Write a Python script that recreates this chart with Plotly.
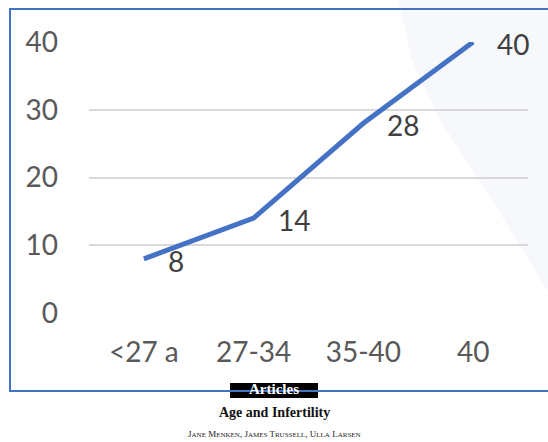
import plotly.graph_objects as go

# Infertility by age group (%)
age_groups = ["<27 a", "27-34", "35-40", "40"]
rates = [8, 14, 28, 40]
y_ticks = [0, 10, 20, 30, 40]

W, H = 548, 442
L, R, T, B = 89, 20, 42, 129
PW, PH = W - L - R, H - T - B
FONT = "Lato, Open Sans, sans-serif"


def px(x):
    return (x - L) / PW


def py(y):
    return (H - B - y) / PH


fig = go.Figure()
fig.add_trace(go.Scatter(
    x=age_groups, y=rates, mode="lines",
    line=dict(color="#4472C4", width=5),
    cliponaxis=False, hoverinfo="skip", showlegend=False,
))

shapes = [
    # faint backdrop on the right
    dict(type="path", xref="paper", yref="paper", layer="below",
         path=(f"M {px(398)},{py(0)} L {px(412)},{py(60)} L {px(440)},{py(120)} "
               f"L {px(495)},{py(205)} L {px(550)},{py(295)} L {px(550)},{py(0)} Z"),
         fillcolor="#f6f8fb", line=dict(width=0)),
    # masthead block
    dict(type="rect", xref="paper", yref="paper",
         x0=px(230), x1=px(318), y0=py(383), y1=py(398),
         fillcolor="black", line=dict(width=0)),
    # chart frame
    dict(type="rect", xref="paper", yref="paper",
         x0=px(10), x1=px(552), y0=py(9), y1=py(391),
         fillcolor="rgba(0,0,0,0)", line=dict(color="#4472C4", width=2)),
]

# value labels next to each point (category axis positions by index)
annotations = [
    dict(text=str(v), x=i, y=v, xref="x", yref="y", xanchor="left", yanchor="middle",
         xshift=22, yshift=-2, showarrow=False,
         font=dict(family=FONT, size=28, color="#404040"))
    for i, v in enumerate(rates)
]

annotations += [
    dict(text="<b>Articles</b>", x=px(274), y=py(389), xref="paper", yref="paper",
         xanchor="center", yanchor="middle", showarrow=False,
         font=dict(family="Liberation Serif, serif", size=15, color="white")),
    dict(text="<b>Age and Infertility</b>", x=px(274), y=py(412), xref="paper", yref="paper",
         xanchor="center", yanchor="middle", showarrow=False,
         font=dict(family="Liberation Serif, serif", size=14, color="#111")),
    dict(text="J<span style='font-size:7px'>ANE</span> M<span style='font-size:7px'>ENKEN</span>, "
              "J<span style='font-size:7px'>AMES</span> T<span style='font-size:7px'>RUSSELL</span>, "
              "U<span style='font-size:7px'>LLA</span> L<span style='font-size:7px'>ARSEN</span>",
         x=px(274), y=py(434), xref="paper", yref="paper",
         xanchor="center", yanchor="middle", showarrow=False,
         font=dict(family="Liberation Serif, serif", size=9, color="#222")),
]

fig.update_layout(
    width=W, height=H,
    margin=dict(l=L, r=R, t=T, b=B),
    paper_bgcolor="white", plot_bgcolor="rgba(0,0,0,0)",
    shapes=shapes, annotations=annotations,
    xaxis=dict(type="category", range=[-0.5, 3.5], showgrid=False, showline=False,
               zeroline=False, ticks="", ticklabelstandoff=20,
               tickfont=dict(family=FONT, size=28, color="#595959")),
    yaxis=dict(range=[0, 40], tickvals=y_ticks, showgrid=True, gridcolor="#d9d9d9",
               gridwidth=1.5, zeroline=False, showline=False, ticks="",
               ticklabelstandoff=30,
               tickfont=dict(family=FONT, size=28, color="#595959")),
)

fig.write_html("out.html")
